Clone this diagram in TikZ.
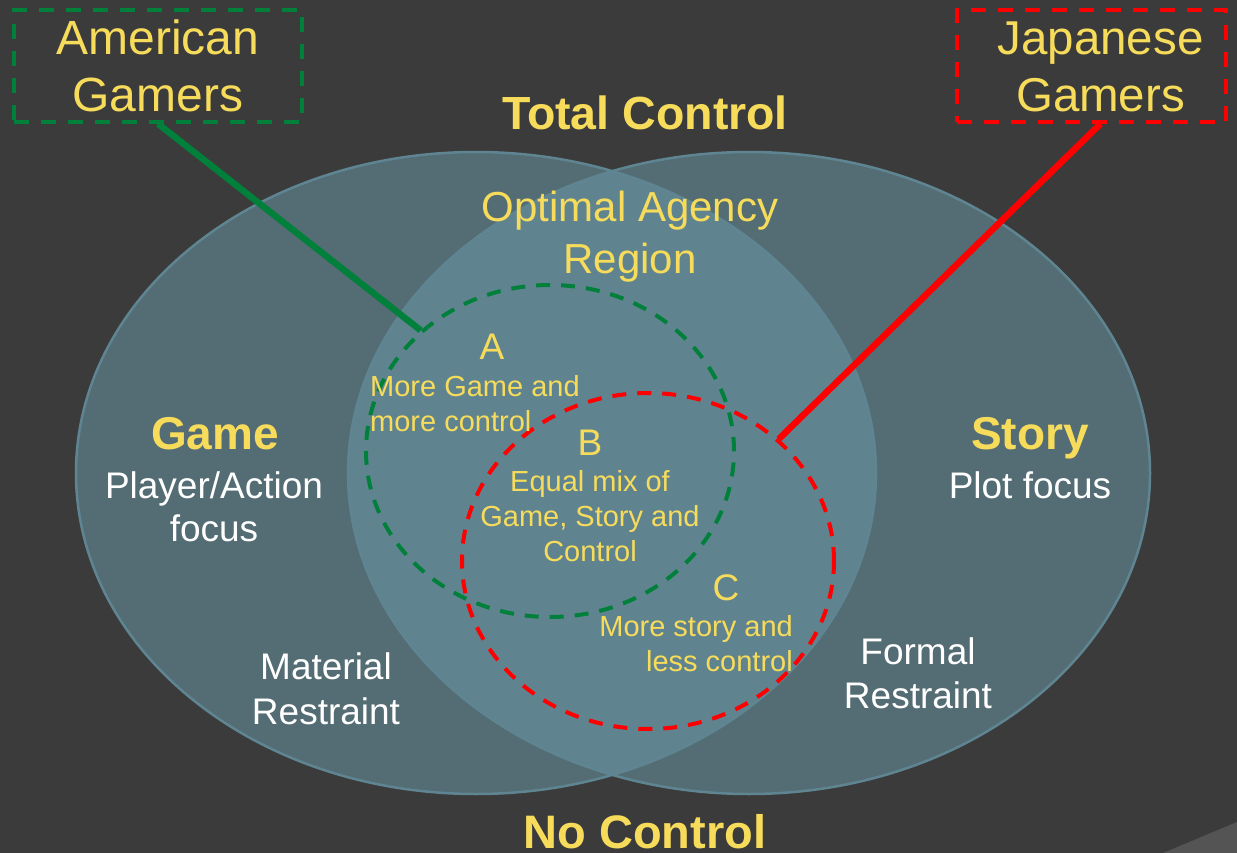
\documentclass[tikz,border=0pt]{standalone}
\usepackage{fontspec}
\setmainfont{Liberation Sans}
\usetikzlibrary{shapes.geometric}
\definecolor{bg}{RGB}{59,59,59}
\definecolor{ell}{RGB}{109,157,171}
\definecolor{ellb}{RGB}{95,133,146}
\definecolor{yel}{RGB}{247,220,92}
\definecolor{grn}{RGB}{0,128,58}
\definecolor{rd}{RGB}{255,0,0}
\definecolor{wedge}{RGB}{84,84,84}
\newcommand{\myfs}[2]{\fontsize{#1}{#2}\selectfont}
\tikzset{
  ytxt/.style={text=yel, align=center, inner sep=0pt},
  wtxt/.style={text=white, align=center, inner sep=0pt},
  gbox/.style={draw=grn, line width=3.5pt, dash pattern=on 15pt off 12pt, inner sep=0pt},
  rbox/.style={draw=rd, line width=3.5pt, dash pattern=on 15pt off 12pt, inner sep=0pt},
  gring/.style={ellipse, draw=grn, line width=4pt, dash pattern=on 14pt off 11pt, inner sep=0pt},
  rring/.style={ellipse, draw=rd, line width=4pt, dash pattern=on 14pt off 11pt, inner sep=0pt},
  gline/.style={draw=grn, line width=6.5pt},
  rline/.style={draw=rd, line width=6.5pt},
  setfill/.style={fill=ell, fill opacity=0.5},
  setedge/.style={draw=ellb, line width=2.5pt}
}
\begin{document}
\begin{tikzpicture}[x=1pt,y=-1pt]
\useasboundingbox (0,0) rectangle (1237,853);
\fill[bg] (0,0) rectangle (1237,853);
\fill[wedge] (1163,853) -- (1237,822) -- (1237,853) -- cycle;

% the two sets
\fill[setfill] (476,473) ellipse [x radius=400, y radius=321];
\fill[setfill] (749,473) ellipse [x radius=401, y radius=321];
\draw[setedge] (476,473) ellipse [x radius=400, y radius=321];
\draw[setedge] (749,473) ellipse [x radius=401, y radius=321];

% dashed regions
\node[gring, minimum width=368pt, minimum height=332pt] (gc) at (550,451) {};
\node[rring, minimum width=372pt, minimum height=336pt] (rc) at (648,561) {};

% boxes
\node[gbox, ytxt, minimum width=288pt, minimum height=112pt, font=\myfs{48}{57}] (ag) at (158,66) {American\\Gamers};
\node[rbox, minimum width=269pt, minimum height=112pt] (jgbox) at (1091.5,66) {};
\node[ytxt, font=\myfs{47.5}{57}] (jg) at (1100.5,67) {Japanese\\Gamers};

% connectors
\draw[gline] (ag.south) -- (gc.137);
\draw[rline] (jg.south |- jgbox.south) -- (rc.43);

% labels
\node[ytxt, font=\bfseries\myfs{46.5}{56}] (tc) at (645,113) {Total Control};
\node[ytxt, font=\bfseries\myfs{47}{56}] (nc) at (645,832) {No Control};
\node[ytxt, font=\myfs{42}{52}] (oar) at (630,237) {Optimal Agency\\Region};
\node[ytxt, font=\bfseries\myfs{46}{55}] (game) at (215,434) {Game};
\node[wtxt, font=\myfs{37}{43}] (paf) at (214,507) {Player/Action\\focus};
\node[ytxt, font=\bfseries\myfs{46}{55}] (story) at (1030,438.5) {Story};
\node[wtxt, font=\myfs{37}{43}] (pf) at (1030,485.5) {Plot focus};
\node[wtxt, font=\myfs{37}{45}] (mr) at (326,689) {Material\\Restraint};
\node[wtxt, font=\myfs{37}{44}] (fr) at (918,673.5) {Formal\\Restraint};
\node[ytxt, font=\myfs{37}{44}] (la) at (492,347) {A};
\node[ytxt, align=left, anchor=west, font=\myfs{29}{35}] (ta) at (370,404) {More Game and\\more control};
\node[ytxt, font=\myfs{37}{44}] (lb) at (590,443) {B};
\node[ytxt, font=\myfs{29}{35}] (tb) at (590,516.5) {Equal mix of\\Game, Story and\\Control};
\node[ytxt, font=\myfs{37}{44}] (lc) at (726,587.5) {C};
\node[ytxt, align=right, anchor=east, font=\myfs{29}{35}] (tcc) at (793,644) {More story and\\less control};
\end{tikzpicture}
\end{document}
